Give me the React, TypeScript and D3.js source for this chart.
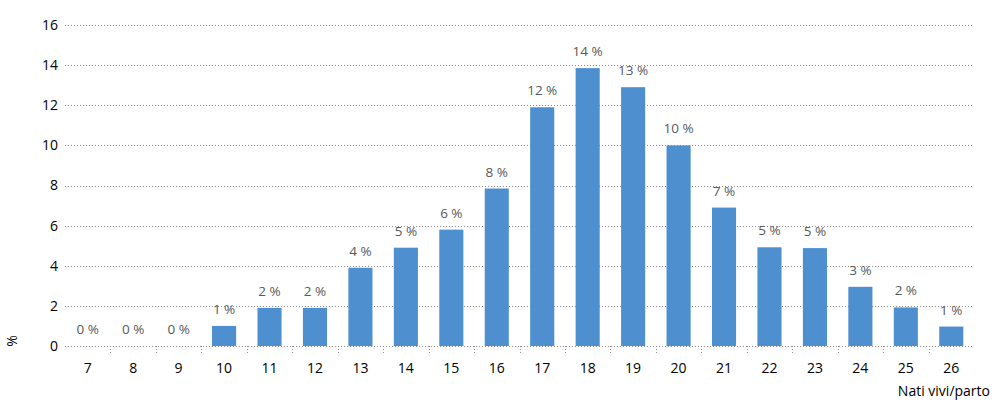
import React, { useEffect, useRef } from 'react';
import * as d3 from 'd3';

const categories = ['7', '8', '9', '10', '11', '12', '13', '14', '15', '16', '17', '18', '19', '20', '21', '22', '23', '24', '25', '26'];
const values = [0, 0, 0, 1.0, 1.9, 1.9, 3.9, 4.9, 5.8, 7.85, 11.9, 13.85, 12.9, 10.0, 6.9, 4.92, 4.88, 2.95, 1.92, 0.97];
const valueLabels = ['0 %', '0 %', '0 %', '1 %', '2 %', '2 %', '4 %', '5 %', '6 %', '8 %', '12 %', '14 %', '13 %', '10 %', '7 %', '5 %', '5 %', '3 %', '2 %', '1 %'];
const yTicks = [0, 2, 4, 6, 8, 10, 12, 14, 16];

const App = () => {
  const svgRef = useRef<SVGSVGElement>(null);

  useEffect(() => {
    const width = 1000;
    const height = 408;
    const margin = { top: 25, right: 26, bottom: 62, left: 65 };
    const innerW = width - margin.left - margin.right;
    const innerH = height - margin.top - margin.bottom;
    const font = "'Open Sans', 'Noto Sans', sans-serif";

    const svg = d3.select(svgRef.current);
    svg.selectAll('*').remove();
    svg.attr('width', width).attr('height', height);

    const g = svg.append('g').attr('transform', `translate(${margin.left},${margin.top})`);

    const x = d3.scaleBand().domain(categories).range([0, innerW]).paddingInner(0.47).paddingOuter(0.235);
    const xs = d3.scaleBand().domain(categories).range([0, innerW]);
    const y = d3.scaleLinear().domain([0, 16]).range([innerH, 0]);

    // gridlines
    g.selectAll('line.grid')
      .data(yTicks)
      .enter()
      .append('line')
      .attr('x1', 0)
      .attr('x2', innerW)
      .attr('y1', d => Math.round(y(d)) + 0.5)
      .attr('y2', d => Math.round(y(d)) + 0.5)
      .style('stroke', '#8c8c8c')
      .style('stroke-width', 1)
      .style('stroke-dasharray', '1,2');

    // category separators
    g.selectAll('line.sep')
      .data(categories.slice(1))
      .enter()
      .append('line')
      .attr('x1', d => Math.round(xs(d)!) + 0.5)
      .attr('x2', d => Math.round(xs(d)!) + 0.5)
      .attr('y1', innerH)
      .attr('y2', innerH + 9)
      .style('stroke', '#8c8c8c')
      .style('stroke-dasharray', '1,2');

    // y labels
    g.selectAll('text.ylab')
      .data(yTicks)
      .enter()
      .append('text')
      .attr('x', -7)
      .attr('y', d => y(d))
      .attr('dy', '0.35em')
      .attr('text-anchor', 'end')
      .style('font-family', font)
      .style('font-size', '14px')
      .style('fill', '#000')
      .text(d => d);

    // bars
    g.selectAll('rect.bar')
      .data(values)
      .enter()
      .append('rect')
      .attr('x', (d, i) => x(categories[i])!)
      .attr('y', d => y(d))
      .attr('width', x.bandwidth())
      .attr('height', d => innerH - y(d))
      .style('fill', '#4e8fd0');

    // value labels
    g.selectAll('text.val')
      .data(values)
      .enter()
      .append('text')
      .attr('x', (d, i) => x(categories[i])! + x.bandwidth() / 2)
      .attr('y', d => y(d) - 12)
      .attr('text-anchor', 'middle')
      .style('font-family', font)
      .style('font-size', '13.5px')
      .style('fill', '#595959')
      .text((d, i) => valueLabels[i]);

    // x labels
    g.selectAll('text.xlab')
      .data(categories)
      .enter()
      .append('text')
      .attr('x', d => xs(d)! + xs.bandwidth() / 2)
      .attr('y', innerH + 27)
      .attr('text-anchor', 'middle')
      .style('font-family', font)
      .style('font-size', '14px')
      .style('fill', '#000')
      .text(d => d);

    // axis titles
    svg.append('text')
      .attr('transform', `translate(17, 341) rotate(-90)`)
      .attr('text-anchor', 'middle')
      .style('font-family', font)
      .style('font-size', '14px')
      .style('fill', '#000')
      .text('%');

    svg.append('text')
      .attr('x', 990)
      .attr('y', 396)
      .attr('text-anchor', 'end')
      .style('font-family', font)
      .style('font-size', '14px')
      .style('fill', '#000')
      .text('Nati vivi/parto');
  }, []);

  return (
    <div style={{ position: 'absolute', left: 0, top: 0, background: '#fff' }}>
      <svg ref={svgRef} style={{ display: 'block' }}></svg>
    </div>
  );
};

export default App;
